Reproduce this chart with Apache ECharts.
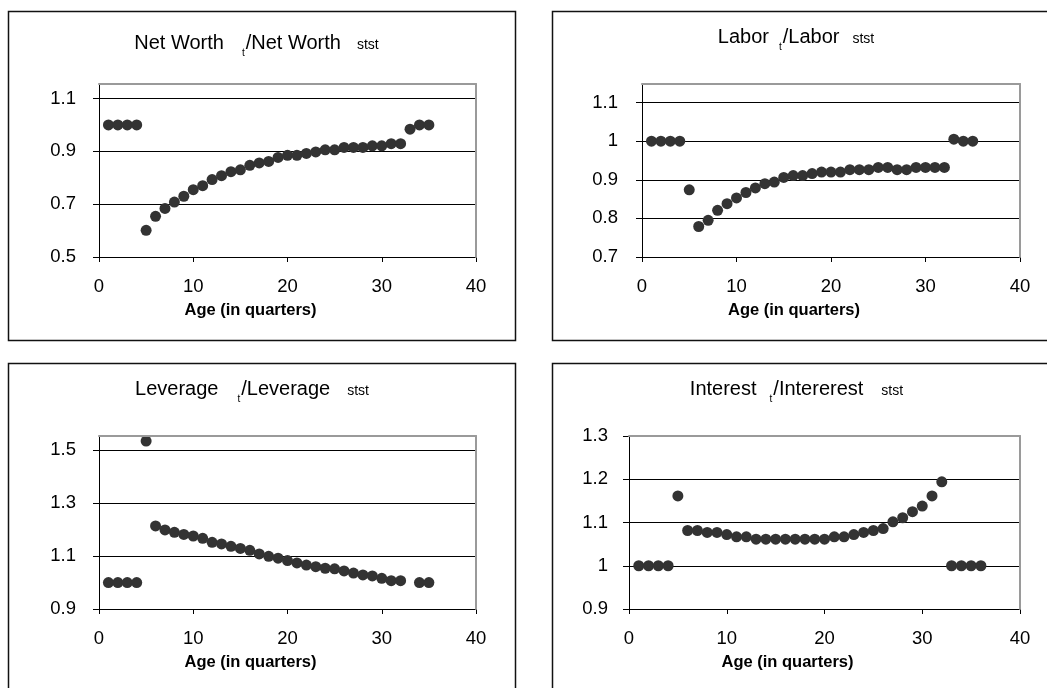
<!DOCTYPE html>
<html><head><meta charset="utf-8">
<script src="https://cdn.jsdelivr.net/npm/echarts@6/dist/echarts.min.js"></script>
<style>html,body{margin:0;padding:0;background:#fff}#c{width:1047px;height:688px}</style>
</head><body><div id="c"></div>
<script>
const ages35 = [1,2,3,4,5,6,7,8,9,10,11,12,13,14,15,16,17,18,19,20,21,22,23,24,25,26,27,28,29,30,31,32,33,34,35];
const ages36 = [1,2,3,4,5,6,7,8,9,10,11,12,13,14,15,16,17,18,19,20,21,22,23,24,25,26,27,28,29,30,31,32,33,34,35,36];

const netWorth = [1.0,1.0,1.0,1.0,0.601,0.654,0.684,0.708,0.73,0.755,0.77,0.793,0.808,0.823,0.83,0.847,0.856,0.862,0.877,0.885,0.885,0.892,0.898,0.906,0.906,0.915,0.915,0.915,0.921,0.921,0.929,0.929,0.984,1.0,1.0];
const labor = [1.0,1.0,1.0,1.0,0.874,0.779,0.795,0.821,0.838,0.853,0.867,0.879,0.890,0.894,0.906,0.911,0.911,0.916,0.920,0.920,0.920,0.926,0.926,0.926,0.932,0.932,0.926,0.926,0.932,0.932,0.932,0.932,1.005,1.0,1.0];
const leverage = [1.0,1.0,1.0,1.0,1.535,1.214,1.199,1.190,1.182,1.176,1.167,1.152,1.146,1.137,1.129,1.122,1.108,1.099,1.092,1.083,1.074,1.066,1.060,1.054,1.052,1.044,1.036,1.029,1.025,1.016,1.007,1.007,null,1.0,1.0];
const interest = [1.0,1.0,1.0,1.0,1.1615,1.0815,1.0815,1.077,1.077,1.072,1.067,1.067,1.0615,1.0615,1.0615,1.0615,1.0615,1.0615,1.0615,1.0615,1.067,1.067,1.072,1.077,1.0815,1.086,1.1015,1.111,1.125,1.138,1.1615,1.194,1.0,1.0,1.0,1.0];

const xTicks = [0,10,20,30,40];
const yTicksNetWorth = [0.5,0.7,0.9,1.1];
const yTicksLabor = [0.7,0.8,0.9,1,1.1];
const yTicksLeverage = [0.9,1.1,1.3,1.5];
const yTicksInterest = [0.9,1,1.1,1.2,1.3];

const titleNetWorth = ['Net Worth','t','/Net Worth','stst'];
const titleLabor = ['Labor','t','/Labor','stst'];
const titleLeverage = ['Leverage','t','/Leverage','stst'];
const titleInterest = ['Interest','t','/Intererest','stst'];
const xName = 'Age (in quarters)';

const FONT = "'Liberation Sans', Arial, Helvetica, sans-serif";

const panels = [
  {title: titleNetWorth, gaps:[18,16], ages: ages35, vals: netWorth, ticks: yTicksNetWorth, min:0.5, max:1.155,
   grid:{left:99, top:84, width:377, height:173}, tx:256.5, ty:33, lm:23, box:[8,11,507,329]},
  {title: titleLabor, gaps:[10,13], ages: ages35, vals: labor, ticks: yTicksLabor, min:0.7, max:1.148,
   grid:{left:642, top:84, width:378, height:173}, tx:796, ty:27, lm:24, box:[552,11,500,329]},
  {title: titleLeverage, gaps:[19,17], ages: ages35, vals: leverage, ticks: yTicksLeverage, min:0.9, max:1.554,
   grid:{left:99, top:436, width:377, height:173}, tx:252, ty:379, lm:23, box:[8,363,507,330]},
  {title: titleInterest, gaps:[13,18], ages: ages36, vals: interest, ticks: yTicksInterest, min:0.9, max:1.3,
   grid:{left:629, top:436, width:391, height:173}, tx:796.5, ty:379, lm:21, box:[552,363,500,330]}
];

const option = {
  animation: false,
  backgroundColor: '#fff',
  textStyle: {fontFamily: FONT, color: '#000'},
  title: [], grid: [], xAxis: [], yAxis: [], series: [], graphic: []
};

panels.forEach((p, i) => {
  option.graphic.push({
    type: 'rect', silent: true, z: -10,
    shape: {x: p.box[0] + 0.5, y: p.box[1] + 0.5, width: p.box[2], height: p.box[3]},
    style: {fill: 'none', stroke: '#111', lineWidth: 1.5}
  });
  option.title.push({
    left: p.tx, top: p.ty, padding: 0, textAlign: 'center', textVerticalAlign: 'top',
    text: `{m|${p.title[0]}}{t|${p.title[1]}}{m|${p.title[2]}}{s|${p.title[3]}}`,
    textStyle: {
      fontFamily: FONT, fontWeight: 'normal', color: '#000',
      rich: {
        m: {fontFamily: FONT, fontSize: 20, lineHeight: 20, verticalAlign: 'top', color: '#000'},
        t: {fontFamily: FONT, fontSize: 10, lineHeight: 10, verticalAlign: 'top', color: '#000', padding: [15, 1, 0, p.gaps[0]]},
        s: {fontFamily: FONT, fontSize: 14, lineHeight: 14, verticalAlign: 'top', color: '#000', padding: [5, 0, 0, p.gaps[1]]}
      }
    }
  });
  option.grid.push(Object.assign({containLabel: false}, p.grid));
  option.xAxis.push({
    type: 'value', gridIndex: i, min: 0, max: 40, interval: 10,
    name: xName, nameLocation: 'middle', nameGap: 45,
    nameTextStyle: {fontFamily: FONT, fontSize: 16.5, fontWeight: 'bold', color: '#000', padding: [0, 74, 0, 0], verticalAlign: 'top'},
    axisLine: {show: true, lineStyle: {color: '#000', width: 1}},
    axisTick: {show: true, inside: false, length: 5, lineStyle: {color: '#000'}, customValues: xTicks},
    axisLabel: {fontFamily: FONT, fontSize: 18.5, color: '#000', margin: 20, customValues: xTicks},
    splitLine: {show: false}
  });
  option.xAxis.push({
    type: 'value', gridIndex: i, position: 'top', min: 0, max: 40, z: 5,
    axisLine: {show: true, onZero: false, lineStyle: {color: '#9a9a9a', width: 2}},
    axisTick: {show: false}, axisLabel: {show: false}, splitLine: {show: false}
  });
  option.yAxis.push({
    type: 'value', gridIndex: i, min: p.min, max: p.max,
    axisLine: {show: true, onZero: false, lineStyle: {color: '#000', width: 1}},
    axisTick: {show: true, inside: false, length: 6, lineStyle: {color: '#000'}, customValues: p.ticks},
    axisLabel: {fontFamily: FONT, fontSize: 18.5, color: '#000', margin: p.lm, customValues: p.ticks},
    splitLine: {show: true, lineStyle: {color: '#000', width: 1}}
  });
  option.yAxis.push({
    type: 'value', gridIndex: i, position: 'right', min: p.min, max: p.max, z: 5,
    axisLine: {show: true, onZero: false, lineStyle: {color: '#9a9a9a', width: 2}},
    axisTick: {show: false}, axisLabel: {show: false}, splitLine: {show: false}
  });
  const data = [];
  p.ages.forEach((a, k) => { if (p.vals[k] !== null) data.push([a, p.vals[k]]); });
  option.series.push({
    type: 'scatter', xAxisIndex: 2 * i, yAxisIndex: 2 * i, data: data,
    symbol: 'circle', symbolSize: 11, z: 3,
    itemStyle: {color: '#333333', opacity: 1},
    emphasis: {disabled: true}
  });
});

const chart = echarts.init(document.getElementById('c'), null, {renderer: 'canvas'});
chart.setOption(option);
</script>
</body></html>
